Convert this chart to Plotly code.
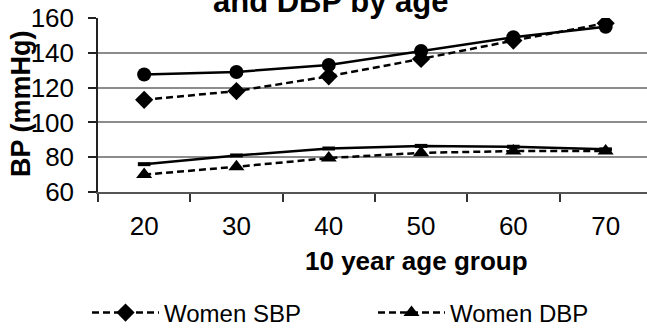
import plotly.graph_objects as go

ages = ["20", "30", "40", "50", "60", "70"]
women_sbp = [113, 118, 126.5, 136.5, 147, 157]
men_sbp = [127.5, 129, 133, 141, 149, 155]
women_dbp = [70, 74.5, 79.5, 82.5, 83.5, 83.5]
men_dbp = [76, 81, 85, 86.5, 86, 84.5]
y_ticks = [60, 80, 100, 120, 140, 160]

title_text = "and DBP by age"
x_title = "10 year age group"
y_title = "BP (mmHg)"

FONT = "Liberation Sans, Arial, sans-serif"
W, H = 647, 328
L, R, T, B = 98, 0, 18, 136
PW, PH = W - L - R, H - T - B
SPACING = 92.3


def px_x(px):
    return (px - L) / PW


def px_y(py):
    return (H - B - py) / PH


fig = go.Figure()

fig.add_trace(go.Scatter(
    x=ages, y=men_sbp, name="Men SBP", mode="lines+markers",
    line=dict(color="black", width=2.5),
    marker=dict(symbol="circle", size=14, color="black"),
    showlegend=False,
))
fig.add_trace(go.Scatter(
    x=ages, y=men_dbp, name="Men DBP", mode="lines+markers",
    line=dict(color="black", width=2.5),
    marker=dict(symbol="line-ew", size=9, color="black",
                line=dict(color="black", width=4)),
    showlegend=False,
))
fig.add_trace(go.Scatter(
    x=ages, y=women_sbp, name="Women SBP", mode="lines+markers",
    line=dict(color="black", width=2.5, dash="7px,4px"),
    marker=dict(symbol="diamond", size=14, color="black"),
    legend="legend",
))
fig.add_trace(go.Scatter(
    x=ages, y=women_dbp, name="Women DBP", mode="lines+markers",
    line=dict(color="black", width=2.5, dash="7px,4px"),
    marker=dict(symbol="triangle-up", size=14, color="black"),
    legend="legend2",
))

legend_common = dict(
    orientation="h", xanchor="left", yanchor="middle",
    font=dict(size=24, family=FONT, color="black"),
    bgcolor="rgba(0,0,0,0)", itemwidth=67,
)

fig.update_layout(
    width=W, height=H,
    margin=dict(l=L, r=R, t=T, b=B, autoexpand=False),
    paper_bgcolor="white", plot_bgcolor="white",
    font=dict(family=FONT, color="black", size=26),
    showlegend=True,
    legend=dict(x=px_x(87), y=px_y(313), **legend_common),
    legend2=dict(x=px_x(373), y=px_y(313), **legend_common),
    xaxis=dict(
        type="category", range=[-0.5, -0.5 + PW / SPACING],
        tickson="boundaries", ticks="outside", ticklen=8,
        tickcolor="#333333", tickwidth=1.5,
        showline=True, linecolor="#555555", linewidth=1.5,
        showgrid=False, tickfont=dict(size=26),
        ticklabelstandoff=10,
    ),
    yaxis=dict(
        range=[60, 160], tickvals=y_ticks, ticks="outside", ticklen=8,
        tickcolor="#222222", tickwidth=1.5,
        showline=True, linecolor="#222222", linewidth=1.5,
        showgrid=True, gridcolor="#8c8c8c", gridwidth=1.5,
        zeroline=False, tickfont=dict(size=26),
        ticklabelstandoff=9,
    ),
    annotations=[
        dict(text="<b>" + title_text + "</b>", xref="paper", yref="paper",
             x=px_x(330), y=px_y(1), xanchor="center", yanchor="middle",
             showarrow=False, font=dict(size=31, family=FONT)),
        dict(text="<b>" + x_title + "</b>", xref="paper", yref="paper",
             x=px_x(416), y=px_y(261), xanchor="center", yanchor="middle",
             showarrow=False, font=dict(size=26, family=FONT)),
        dict(text="<b>" + y_title + "</b>", xref="paper", yref="paper",
             x=px_x(21), y=px_y(104), xanchor="center", yanchor="middle",
             textangle=-90, showarrow=False, font=dict(size=27, family=FONT)),
    ],
)

fig.write_html("out.html")
